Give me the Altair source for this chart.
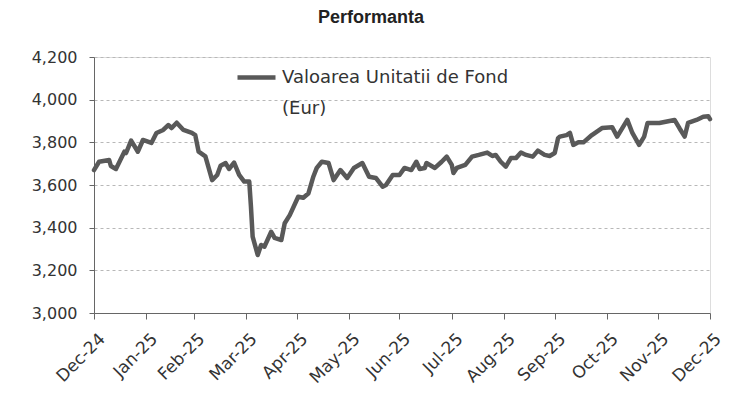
import altair as alt
import pandas as pd

# day offsets from 31-Dec-2024 and unit value (EUR)
days = [0, 3, 9, 10, 13, 18, 19, 22, 26, 29, 34, 37, 41, 44, 46, 49, 53, 58, 60, 62,
        66, 70, 73, 75, 78, 80, 83, 86, 89, 92, 93, 94, 97, 99, 101, 105, 107, 111, 113, 116,
        121, 124, 127, 130, 132, 135, 139, 142, 146, 150, 154, 159, 163, 167, 171, 173, 177, 181, 184, 188,
        191, 193, 196, 197, 202, 206, 209, 212, 213, 215, 220, 224, 228, 233, 236, 238, 241, 244, 247, 250,
        253, 256, 260, 263, 267, 270, 273, 275, 276, 280, 282, 284, 287, 290, 295, 301, 307, 310, 316, 319,
        323, 326, 328, 335, 344, 347, 350, 352, 357, 361, 364, 365]
nav = [3670, 3709, 3717, 3689, 3675, 3756, 3750, 3808, 3756, 3811, 3797, 3844, 3858, 3881, 3867, 3892, 3858, 3844, 3834, 3756,
       3734, 3623, 3647, 3690, 3703, 3675, 3705, 3647, 3616, 3616, 3498, 3358, 3272, 3319, 3311, 3381, 3352, 3342, 3421, 3459,
       3545, 3540, 3560, 3640, 3680, 3709, 3703, 3623, 3670, 3633, 3680, 3703, 3639, 3633, 3592, 3600, 3647, 3647, 3680, 3670,
       3709, 3675, 3680, 3703, 3680, 3709, 3733, 3694, 3656, 3680, 3694, 3733, 3741, 3752, 3736, 3741, 3709, 3686, 3726, 3726,
       3752, 3741, 3733, 3761, 3741, 3736, 3750, 3820, 3827, 3834, 3844, 3788, 3800, 3800, 3834, 3867, 3871, 3827, 3905, 3844,
       3788, 3827, 3891, 3891, 3905, 3865, 3827, 3891, 3905, 3920, 3922, 3909]
assert len(days) == len(nav)

month_ends = ["2024-12-31", "2025-01-31", "2025-02-28", "2025-03-31", "2025-04-30",
              "2025-05-31", "2025-06-30", "2025-07-31", "2025-08-31", "2025-09-30",
              "2025-10-31", "2025-11-30", "2025-12-31"]
y_ticks = [3000, 3200, 3400, 3600, 3800, 4000, 4200]
series_name = "Valoarea Unitatii de Fond"
unit_label = "(Eur)"

start = pd.Timestamp(month_ends[0])
df = pd.DataFrame({
    "date": [start + pd.Timedelta(days=d) for d in days],
    "nav": nav,
    "series": series_name,
})

tick_dates = [alt.DateTime(year=int(s[:4]), month=int(s[5:7]), date=int(s[8:])) for s in month_ends]

FONT = "DejaVu Sans"

chart = alt.Chart(df).mark_line(strokeWidth=4.5, strokeJoin="round", strokeCap="round").encode(
    x=alt.X("date:T",
            scale=alt.Scale(domain=[tick_dates[0], tick_dates[-1]]),
            axis=alt.Axis(values=tick_dates, format="%b-%y", labelAngle=-45,
                          labelAlign="right", labelBaseline="middle", title=None,
                          grid=False, domainColor="#666", tickColor="#666", tickSize=6,
                          labelFontSize=17, labelFont=FONT, labelColor="#333",
                          labelPadding=17, labelOffset=8, labelOverlap=False)),
    y=alt.Y("nav:Q",
            scale=alt.Scale(domain=[3000, 4200], nice=False, zero=False),
            axis=alt.Axis(values=y_ticks, format=",.0f", title=None, grid=True,
                          gridDash=[3, 3], gridColor="#b8b8b8", domainColor="#666",
                          tickColor="#666", tickSize=5, labelFontSize=16, labelFont=FONT,
                          labelColor="#333", labelPadding=12)),
    color=alt.Color("series:N",
                    scale=alt.Scale(domain=[series_name, unit_label],
                                    range=["#595959", "rgba(0,0,0,0)"]),
                    legend=alt.Legend(title=None, orient="none", legendX=141, legendY=-1,
                                      symbolType="stroke", symbolStrokeWidth=4.5, symbolSize=1444,
                                      labelFontSize=18, labelFont=FONT, labelColor="#333",
                                      labelLimit=400, padding=0, labelOffset=4,
                                      rowPadding=-14)),
).properties(
    width=616,
    height=256,
    title=alt.TitleParams("Performanta", font="Liberation Sans", fontSize=18,
                          fontWeight="bold", color="#222", anchor="middle", dx=-31, offset=22),
    autosize=alt.AutoSizeParams(type="none"),
    padding={"left": 86, "top": 49, "right": 19, "bottom": 82},
).configure_view(stroke=None).configure(background="white")

chart.save("out.html", embed_options={"renderer": "svg", "actions": False})
